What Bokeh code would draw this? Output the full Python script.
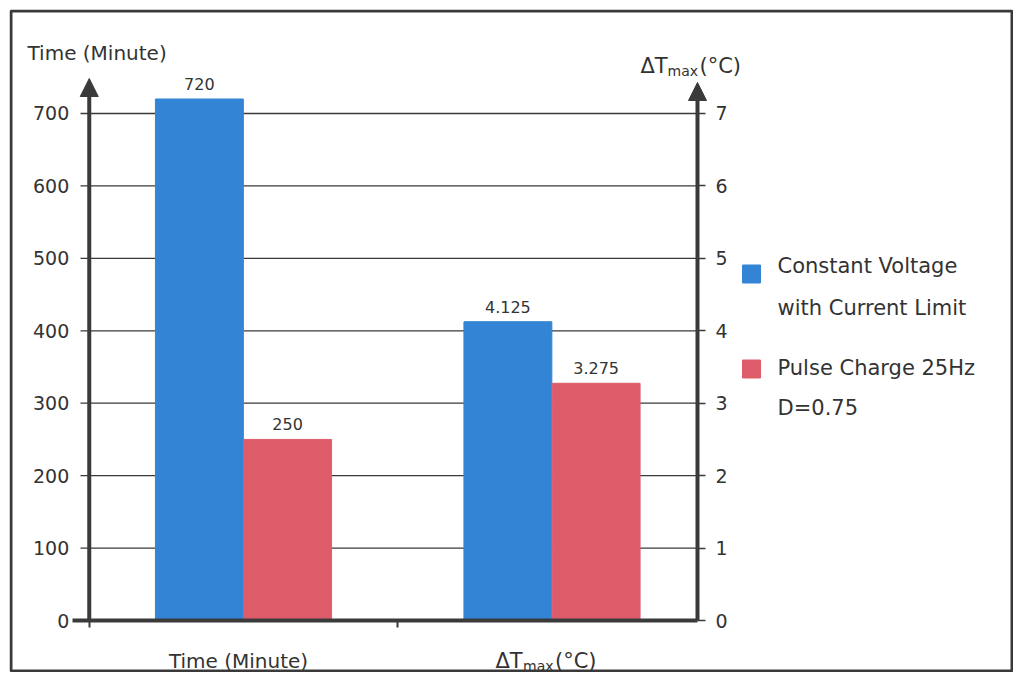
from bokeh.plotting import figure
from bokeh.models import (Range1d, LinearAxis, FixedTicker, Arrow, NormalHead, Label,
                          LabelSet, ColumnDataSource, BoxAnnotation)
from bokeh.core.properties import value
from bokeh.embed import file_html
from bokeh.resources import INLINE

# ---------------- data ----------------
categories = ["Time (Minute)", "ΔTmax(°C)"]
series_names = ["Constant Voltage", "with Current Limit"], ["Pulse Charge 25Hz", "D=0.75"]
constant_voltage = [720, 4.125]
pulse_charge = [250, 3.275]
constant_voltage_labels = ["720", "4.125"]
pulse_charge_labels = ["250", "3.275"]
left_ticks = [0, 100, 200, 300, 400, 500, 600, 700]
right_ticks = [0, 1, 2, 3, 4, 5, 6, 7]
right_scale = 100  # right axis unit expressed in left-axis units

# ---------------- style ----------------
FONT = "DejaVu Sans"
TXT = "#333333"
AXIS = "#3a3a3a"
BLUE = "#3384d5"
RED = "#de5c6a"

# ---------------- layout (pixel placement) ----------------
W, H = 1004, 663          # canvas size
OX, OY = 9, 9             # canvas origin on the page
SX = 308.5                # px per category
CX = 243                  # page px of first category centre
SY = 0.7243               # px per left-axis unit
ZY = 620                  # page px of zero line
BAR_W = 0.285
OFF = 0.143


def xd(px):
    return 0.5 + (px - CX) / SX


def yd(py):
    return (ZY - py) / SY


XA = xd(697)   # right axis position

p = figure(width=W, height=H, x_range=Range1d(xd(OX), xd(OX + W)),
           y_range=Range1d(yd(OY + H), yd(OY)),
           output_backend="svg", toolbar_location=None,
           min_border_left=0, min_border_right=0, min_border_top=0, min_border_bottom=0)
p.extra_y_ranges = {"dt": Range1d(yd(OY + H) / right_scale, yd(OY) / right_scale)}
p.outline_line_color = None
p.background_fill_color = "white"
p.border_fill_color = "white"
p.styles = {"margin": "9px 0 0 9px"}
p.grid.grid_line_color = None

# outer frame of the figure
p.add_layout(BoxAnnotation(left=xd(10.5), right=xd(1011.5), top=yd(10.5), bottom=yd(670.5),
                           fill_color=None, fill_alpha=0, line_color=AXIS, line_width=3,
                           line_alpha=1))

# gridlines (left-axis ticks), drawn under the bars
p.segment(x0=xd(80), x1=XA, y0=left_ticks[1:], y1=left_ticks[1:],
          line_color=AXIS, line_width=1.3)

# left axis
ya = p.yaxis[0]
ya.fixed_location = 0
ya.ticker = FixedTicker(ticks=left_ticks)
ya.axis_line_color = None
ya.major_tick_out = 0
ya.major_tick_in = 0
ya.minor_tick_line_color = None
ya.major_label_standoff = 20
ya.major_label_text_font = FONT
ya.major_label_text_font_size = "19px"
ya.major_label_text_color = TXT

# right axis
ra = LinearAxis(y_range_name="dt", ticker=FixedTicker(ticks=right_ticks), fixed_location=XA)
ra.axis_line_color = None
ra.major_tick_out = 8
ra.major_tick_in = 0
ra.major_tick_line_color = AXIS
ra.major_tick_line_width = 1.3
ra.minor_tick_line_color = None
ra.major_label_standoff = 10
ra.major_label_text_font = FONT
ra.major_label_text_font_size = "19px"
ra.major_label_text_color = TXT
p.add_layout(ra, "right")

# bottom axis (category separators as small ticks, no tick labels)
xa = p.xaxis[0]
xa.fixed_location = 0
xa.bounds = (xd(72), XA)
xa.ticker = FixedTicker(ticks=[], minor_ticks=[0, 1])
xa.axis_line_color = AXIS
xa.axis_line_width = 4
xa.major_tick_line_color = None
xa.minor_tick_out = 7
xa.minor_tick_in = 0
xa.minor_tick_line_color = AXIS
xa.minor_tick_line_width = 2

# bars + value labels
pos = [i + 0.5 for i in range(len(categories))]
rng_names = ["default", "dt"]
for i in range(len(categories)):
    rn = rng_names[i]
    p.vbar(x=[pos[i] - OFF], top=[constant_voltage[i]], width=BAR_W, bottom=0,
           fill_color=BLUE, line_color=BLUE, y_range_name=rn)
    p.vbar(x=[pos[i] + OFF], top=[pulse_charge[i]], width=BAR_W, bottom=0,
           fill_color=RED, line_color=RED, y_range_name=rn)
    src = ColumnDataSource(dict(x=[pos[i] - OFF, pos[i] + OFF],
                                y=[constant_voltage[i], pulse_charge[i]],
                                t=[constant_voltage_labels[i], pulse_charge_labels[i]]))
    p.add_layout(LabelSet(x="x", y="y", text="t", source=src, y_range_name=rn,
                          text_align="center", text_baseline="alphabetic", y_offset=9,
                          text_font=value(FONT), text_font_size=value("16px"),
                          text_color=value(TXT)))

# axis arrows
p.add_layout(Arrow(end=NormalHead(size=18, fill_color=AXIS, line_color=AXIS),
                   x_start=0, y_start=0, x_end=0, y_end=yd(78),
                   line_width=4, line_color=AXIS))
p.add_layout(Arrow(end=NormalHead(size=18, fill_color=AXIS, line_color=AXIS),
                   x_start=XA, y_start=0, x_end=XA, y_end=yd(82),
                   line_width=4, line_color=AXIS))


def lab(x, y, text, size="20px", align="left", xo=0):
    p.add_layout(Label(x=x, y=y, x_offset=xo, text=text,
                       text_font=FONT, text_font_size=size, text_color=TXT,
                       text_align=align, text_baseline="alphabetic"))


# axis titles
lab(xd(27), yd(52), "Time (Minute)")
lab(xd(640), yd(65), "ΔT", size="21px")
lab(xd(667), yd(70), "max", size="14px")
lab(xd(699), yd(65), "(°C)", size="21px")

# category labels
lab(pos[0], yd(660), categories[0], align="center", xo=-5)
lab(pos[1], yd(660), "ΔT", size="21px", xo=-56.5)
lab(pos[1], yd(665), "max", size="14px", xo=-29)
lab(pos[1], yd(660), "(°C)", size="21px", xo=3)

# legend (swatches + two-line labels)
sw_y = [yd(273.5), yd(368.5)]
p.scatter(x=[xd(751)] * 2, y=sw_y, marker="square", size=18,
          fill_color=[BLUE, RED], line_color=[BLUE, RED])
text_baselines = [[265, 307], [367, 407]]
for names, bl in zip(series_names, text_baselines):
    for t, b in zip(names, bl):
        lab(xd(777), yd(b), t, size="21px")

open("out.html", "w").write(file_html(p, INLINE))
